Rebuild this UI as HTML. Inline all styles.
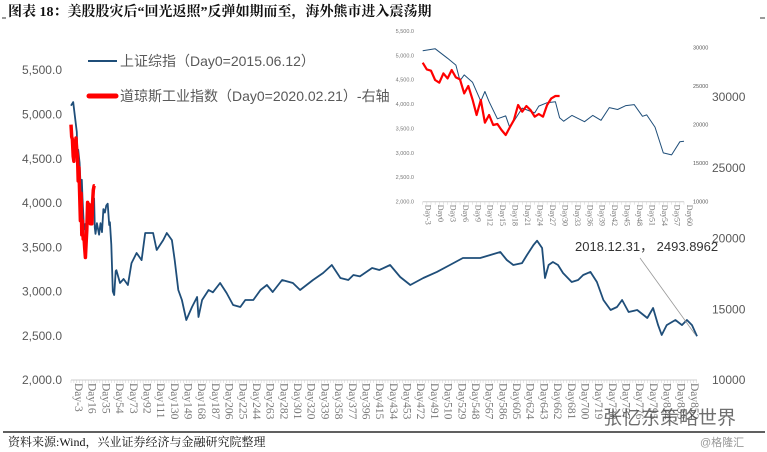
<!DOCTYPE html>
<html><head><meta charset="utf-8"><style>
body{margin:0;background:#fff;}
svg{display:block;font-family:"Liberation Sans","Noto Sans CJK SC",sans-serif;}
</style></head><body>
<svg id="c" width="767" height="452" viewBox="0 0 767 452">
<text x="8" y="16" font-family="Liberation Serif,'Noto Serif CJK SC',serif" font-weight="bold" font-size="14" fill="#111">图表 18：美股股灾后“回光返照”反弹如期而至，海外熊市进入震荡期</text>
<line x1="2" y1="18" x2="6" y2="18" stroke="#000" stroke-width="0.8"/>
<line x1="760" y1="18" x2="765" y2="18" stroke="#000" stroke-width="0.8"/>
<g id="main"></g>
<g id="inset"></g>
<line x1="3" y1="432" x2="765" y2="432" stroke="#000" stroke-width="1.2"/>
<text x="8" y="446" font-family="Liberation Serif,'Noto Serif CJK SC',serif" font-size="12" fill="#111">资料来源:Wind，兴业证券经济与金融研究院整理</text>
<text x="603" y="424" font-size="19" fill="#333" opacity="0.7">张忆东策略世界</text>
<text x="700" y="446" font-size="11" fill="#999">@格隆汇</text>
</svg>
<script>
// Shanghai composite (days from Day0 = 2015.06.12)
const shDays=[-3,0,3,5,6,7,9,11,12,13,15,17,18,21,24,25,27,29,30,31,33,36,38,40,42,44,46,48,50,51,53,55,57,59,60,65,70,76,81,88,95,100,111,116,125,130,137,141,146,151,157,165,172,174,179,188,194,204,213,222,232,239,250,260,269,277,290,305,315,333,347,359,371,382,389,398,415,425,440,454,468,486,505,523,541,565,579,593,602,611,623,630,639,644,651,655,660,666,673,680,692,701,708,718,727,736,746,755,762,771,783,797,805,812,817,824,836,845,852,859,866];
const shVals=[5097,5138,4940,4800,4480,4600,4450,4060,4260,4050,3700,3760,3520,3920,3820,3960,4030,4050,3720,3650,3770,3640,3770,3670,3930,3890,3970,3990,3750,3780,3530,3000,2960,3230,3240,3095,3140,3073,3320,3434,3354,3660,3660,3468,3580,3660,3580,3354,3016,2903,2677,2824,2937,2711,2903,3016,2990,3095,2982,2847,2824,2903,2903,3016,3073,2993,3129,3095,3016,3129,3208,3298,3152,3129,3186,3170,3264,3242,3298,3163,3073,3152,3220,3298,3377,3377,3411,3445,3355,3298,3320,3411,3524,3573,3490,3152,3298,3332,3298,3208,3106,3129,3186,3220,3106,2903,2790,2824,2903,2768,2790,2700,2813,2620,2508,2620,2677,2620,2677,2620,2494];
// Dow Jones (days from Day0 = 2020.02.21)
const djDays=[-3,-2,-1,0,1,2,3,4,5,6,7,8,9,10,11,12,13,14,15,16,17,18,19,20,21,22,23,24,25,26,27,28,29,30];
const djVals=[28052,27186,27013,25800,25455,26667,26017,27100,26147,25887,24069,25022,23290,21256,23203,20260,21256,19957,20087,19307,18658,19654,20606,22554,21688,22424,21905,21039,21385,21039,22554,23420,23723,23723];
const leftTicks=[2000,2500,3000,3500,4000,4500,5000,5500];
const rightTicks=[10000,15000,20000,25000,30000];
const mainLabelStart=-3, mainLabelStep=19, mainLastDay=866;
const insetLastDay=60, insetStep=3;

const NS="http://www.w3.org/2000/svg";
function mk(tag,attrs,parent,text){const e=document.createElementNS(NS,tag);for(const k in attrs)e.setAttribute(k,attrs[k]);if(text!==undefined)e.textContent=text;parent.appendChild(e);return e;}
function fmt(v){return v.toLocaleString('en-US',{minimumFractionDigits:1,maximumFractionDigits:1});}

function drawChart(g,o){
  const x=d=>o.x0+(d-o.d0)/(o.d1-o.d0)*(o.x1-o.x0);
  const yl=v=>o.yb-(v-2000)/3500*(o.yb-o.yt);
  const yr=v=>o.yb-(v-10000)/20000*(o.yb-o.yrt);
  leftTicks.forEach(v=>{const t=mk('text',{x:o.lx,y:yl(v)+o.fs*0.35,'text-anchor':'end','font-size':o.fs,fill:o.big?'#595959':'#777'},g,fmt(v));
    
    });
  rightTicks.forEach(v=>{const t=mk('text',{x:o.rx,y:yr(v)+o.fs*0.35,'font-size':o.fs,fill:'#595959'},g,String(v));
    
    });
  const ax=mk('line',{x1:o.x0,y1:o.yb,x2:o.x1,y2:o.yb,stroke:'#ccc','stroke-width':1},g);
  
  
  for(let d=o.d0;d<=o.d1;d+=o.tickStep){mk('line',{x1:x(d),y1:o.yb,x2:x(d),y2:o.yb+3,stroke:'#ccc','stroke-width':0.5},g);}
  for(let d=o.d0;d<=o.d1;d+=o.labStep){const xx=x(d)+o.lfs*0.35;const t=mk('text',{x:xx,y:o.yb+3,transform:`rotate(90 ${xx} ${o.yb+3})`,'font-size':o.lfs,'font-family':'Liberation Serif,serif',fill:'#777'},g,'Day'+d);
    
    }
  let p='';shDays.forEach((d,i)=>{if(d<=o.d1)p+=(p?'L':'M')+x(d).toFixed(1)+','+yl(shVals[i]).toFixed(1);});
  const s1=mk('path',{d:p,fill:'none',stroke:'#1f4e79','stroke-width':o.bw,'stroke-linejoin':'round'},g);
  
  
  let q='';djDays.forEach((d,i)=>{q+=(q?'L':'M')+x(d).toFixed(1)+','+yr(djVals[i]).toFixed(1);});
  const s2=mk('path',{d:q,fill:'none',stroke:'#ff0000','stroke-width':o.rw,'stroke-linejoin':'round'},g);
  
  
  return {x,yl};
}
const main=document.getElementById('main');


const m=drawChart(main,{x0:71,x1:697,d0:-3,d1:mainLastDay,yb:380,yt:70,yrt:97,lx:62,rx:712,fs:12,lfs:11.5,tickStep:4,labStep:mainLabelStep,bw:1.8,rw:3.5,big:true});
const inset=document.getElementById('inset');


drawChart(inset,{x0:422.7,x1:684,d0:-3,d1:insetLastDay,yb:201.7,yt:31,yrt:47.7,lx:414,rx:693,fs:5.5,lfs:8,tickStep:1,labStep:insetStep,bw:1,rw:2.2,big:false});
// legend
const lg=mk('g',{},document.getElementById('c'));


mk('line',{x1:88,y1:61,x2:117,y2:61,stroke:'#1f4e79','stroke-width':2},lg);
const l1=mk('text',{x:120,y:66,'font-size':14,fill:'#595959'},lg,'上证综指（Day0=2015.06.12）');


mk('line',{x1:89,y1:96,x2:116,y2:96,stroke:'#ff0000','stroke-width':5,'stroke-linecap':'round'},lg);
const l2=mk('text',{x:120,y:101,'font-size':14,fill:'#595959'},lg,'道琼斯工业指数（Day0=2020.02.21）-右轴');


// annotation
const lastI=shDays.length-1;
const an=mk('line',{x1:640,y1:258,x2:m.x(shDays[lastI])-2,y2:m.yl(shVals[lastI])-2,stroke:'#999','stroke-width':0.8},document.getElementById('c'));


const at=mk('text',{x:575,y:251,'font-size':13,fill:'#333'},document.getElementById('c'),'2018.12.31，  2493.8962');


</script>
</body></html>
